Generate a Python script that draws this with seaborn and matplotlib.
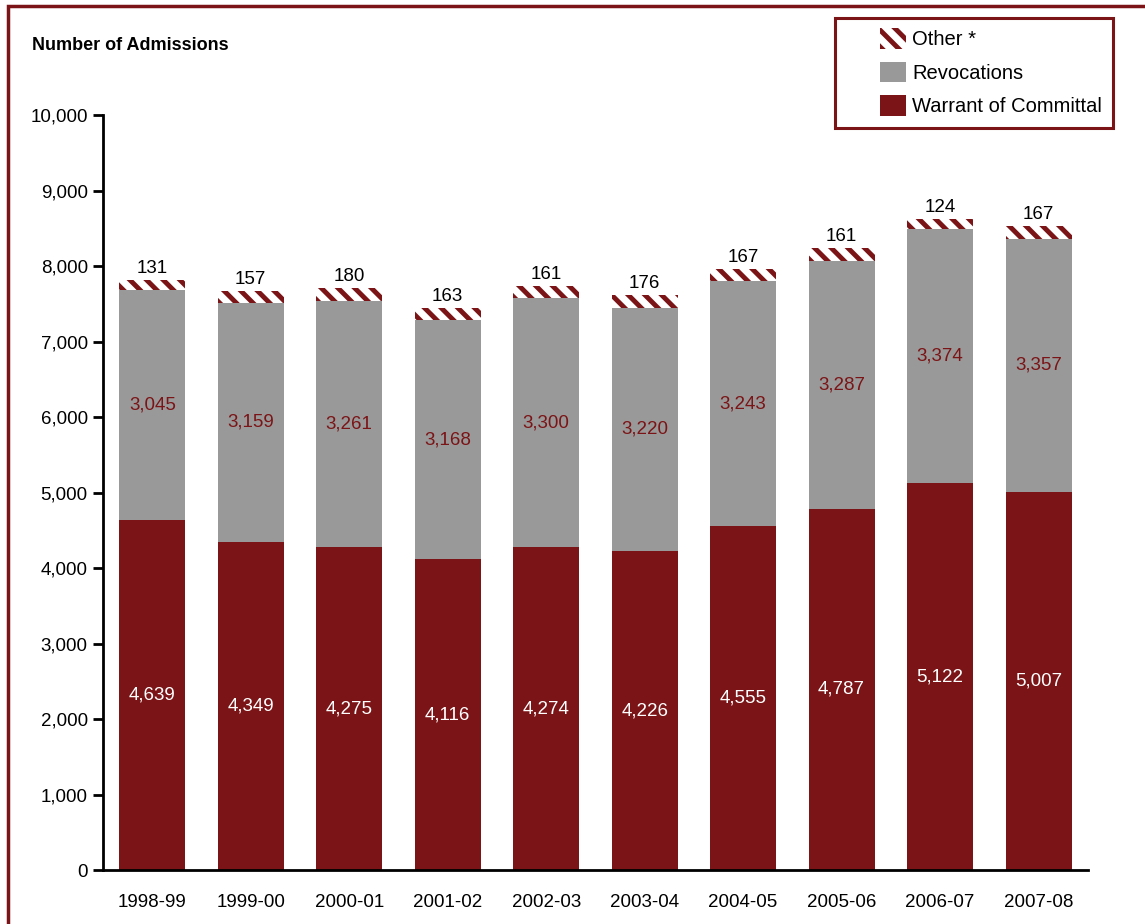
import numpy as np
import pandas as pd
import seaborn as sns
import matplotlib.pyplot as plt
from matplotlib.patches import Rectangle, Patch

years = ['1998-99', '1999-00', '2000-01', '2001-02', '2002-03',
         '2003-04', '2004-05', '2005-06', '2006-07', '2007-08']
warrant = [4639, 4349, 4275, 4116, 4274, 4226, 4555, 4787, 5122, 5007]
revocations = [3045, 3159, 3261, 3168, 3300, 3220, 3243, 3287, 3374, 3357]
other = [131, 157, 180, 163, 161, 176, 167, 161, 124, 167]

red = '#7b1416'
grey = '#999999'

sns.set_style('white')
plt.rcParams['font.family'] = ['Liberation Sans', 'DejaVu Sans']
plt.rcParams['text.color'] = 'black'
plt.rcParams['xtick.color'] = 'black'
plt.rcParams['ytick.color'] = 'black'
plt.rcParams['hatch.linewidth'] = 3.5

df = pd.DataFrame({'year': years, 'warrant': warrant,
                   'revocations': revocations, 'other': other})
base2 = df['warrant'] + df['revocations']

fig = plt.figure(figsize=(11.45, 9.24), dpi=100)
ax = fig.add_axes([0.09, 0.0584, 0.86, 0.817])

sns.barplot(data=df, x='year', y='warrant', color=red, width=0.67,
            saturation=1, ax=ax, linewidth=0)
sns.barplot(data=df, x='year', y='revocations', bottom=df['warrant'],
            color=grey, width=0.67, saturation=1, ax=ax, linewidth=0)
sns.barplot(data=df, x='year', y='other', bottom=base2, color='white',
            width=0.67, saturation=1, ax=ax, linewidth=0)
# hatch the "other" segments
for p in ax.patches[-len(years):]:
    p.set_hatch('\\\\')
    p.set_edgecolor(red)
    p.set_linewidth(0)

fs = 13.5
for i in range(len(years)):
    ax.text(i, warrant[i] / 2, f'{warrant[i]:,}', ha='center', va='center',
            color='white', fontsize=fs)
    ax.text(i, warrant[i] + revocations[i] / 2, f'{revocations[i]:,}',
            ha='center', va='center', color=red, fontsize=fs)
    ax.text(i, base2[i] + other[i] + 40, f'{other[i]}', ha='center',
            va='bottom', color='black', fontsize=fs)

ax.set_ylim(0, 10000)
ax.set_xlim(-0.5, 9.5)
ax.set_yticks(range(0, 10001, 1000))
ax.set_yticklabels([f'{v:,}' for v in range(0, 10001, 1000)], fontsize=fs)
ax.set_xticks(np.arange(-0.5, 10, 1), minor=True)
ax.tick_params(axis='x', which='major', length=0, labelsize=fs, pad=17)
ax.tick_params(axis='x', which='minor', length=7, width=2, direction='out',
               color='black')
ax.tick_params(axis='y', length=7, width=2, direction='out', color='black',
               left=True, pad=4)
ax.set_xlabel('')
ax.set_ylabel('')
for s in ['top', 'right']:
    ax.spines[s].set_visible(False)
for s in ['left', 'bottom']:
    ax.spines[s].set_linewidth(2)
    ax.spines[s].set_color('black')

fig.text(0.028, 0.951, 'Number of Admissions', fontsize=13, fontweight='bold',
         va='center')

handles = [Patch(facecolor='white', hatch='\\\\', edgecolor=red, linewidth=0),
           Patch(facecolor=grey, edgecolor='none'),
           Patch(facecolor=red, edgecolor='none')]
leg = fig.legend(handles, ['Other *', 'Revocations', 'Warrant of Committal'],
                 loc='upper left', bbox_to_anchor=(880 / 1145, 1 - 28 / 924),
                 fontsize=14.5, frameon=False,
                 handlelength=1.3, handleheight=1.2, borderpad=0,
                 labelspacing=0.62, borderaxespad=0, handletextpad=0.3)

# legend box
fig.patches.append(Rectangle((835 / 1145, 1 - 128 / 924), 278 / 1145,
                             110 / 924, transform=fig.transFigure,
                             fill=False, edgecolor=red, linewidth=2.2))

# outer frame
fig.patches.append(Rectangle((0.007, -0.02), 1.05, 1.014,
                             transform=fig.transFigure, fill=False,
                             edgecolor=red, linewidth=2.5))

fig.savefig('out.png', dpi=100)
